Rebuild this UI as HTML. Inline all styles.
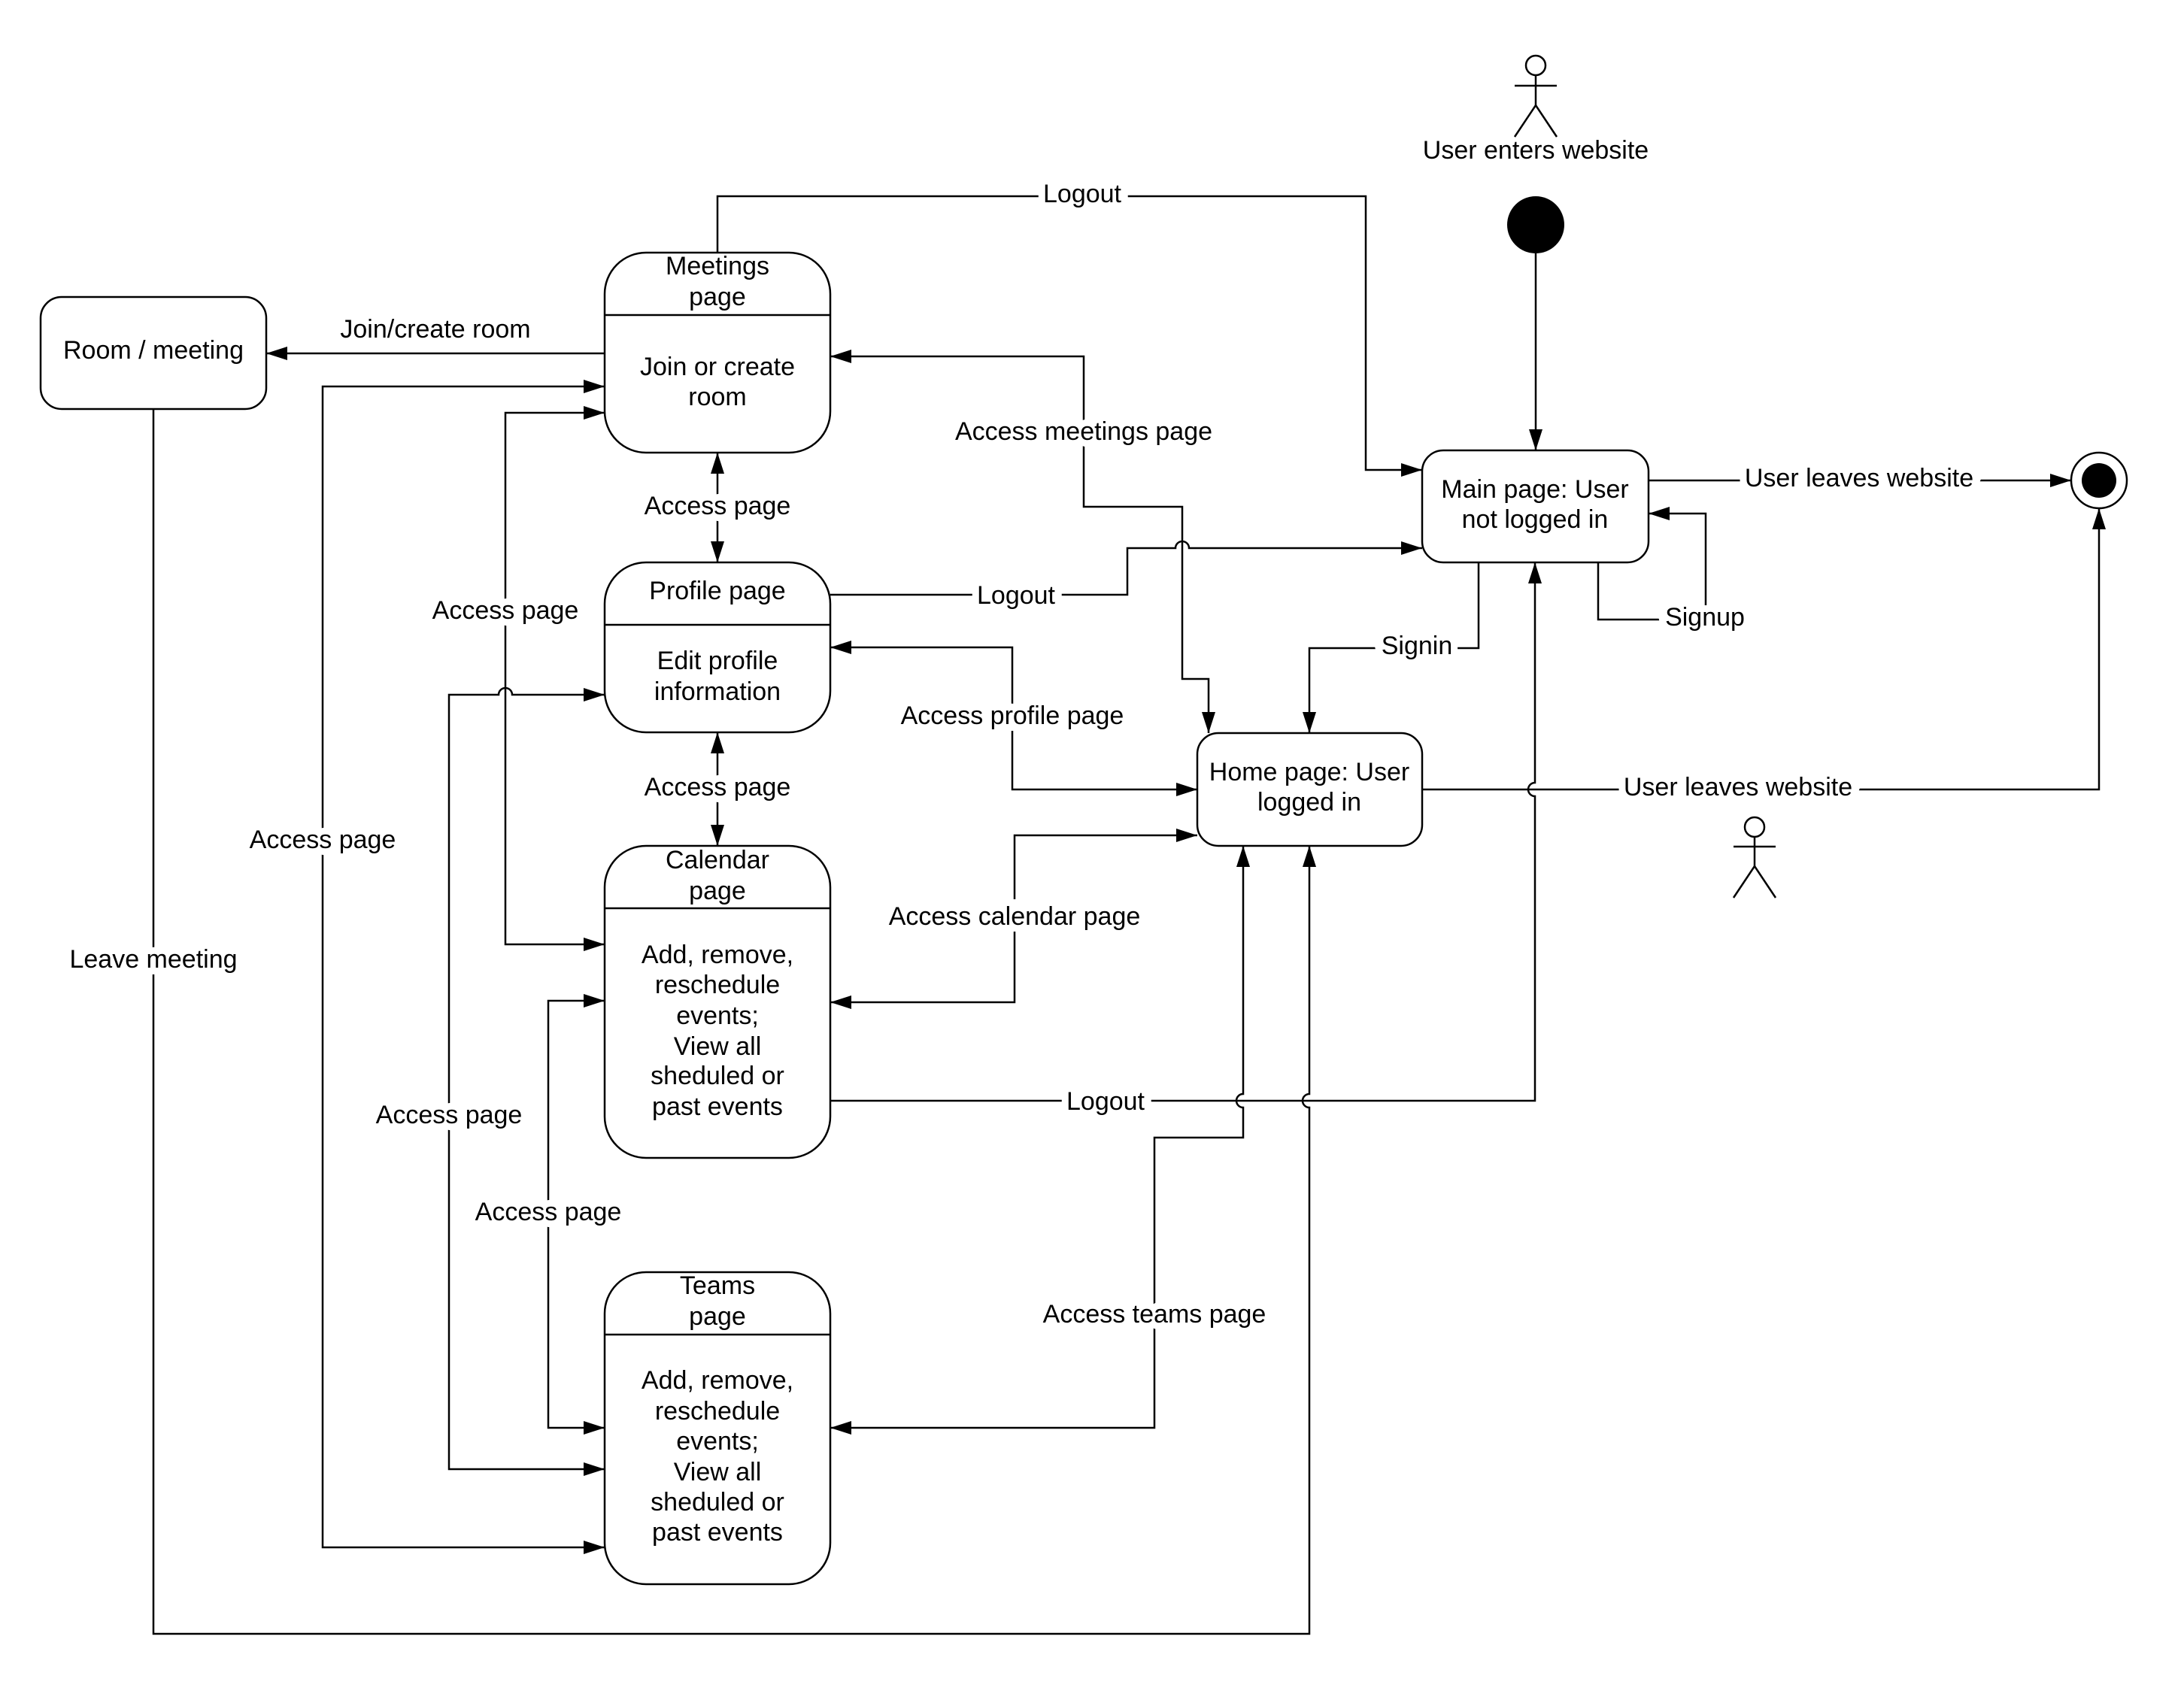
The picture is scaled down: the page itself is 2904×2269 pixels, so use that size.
<!DOCTYPE html>
<html><head><meta charset="utf-8"><style>
html,body{margin:0;padding:0;background:#fff;}
svg{display:block;}
text{font-family:"Liberation Sans",sans-serif;font-size:34px;fill:#000;text-anchor:middle;}
.l{paint-order:stroke;stroke:#fff;stroke-width:18px;stroke-linejoin:miter;}
</style></head><body>
<svg width="2904" height="2269" viewBox="0 0 2904 2269" xmlns="http://www.w3.org/2000/svg">
<defs>
<marker id="a" markerUnits="userSpaceOnUse" markerWidth="28" markerHeight="18" refX="28" refY="9" orient="auto-start-reverse"><path d="M0,0 L28,9 L0,18 z" fill="#000"/></marker>
</defs>
<g fill="none" stroke="#000" stroke-width="2.5">
<rect x="54" y="395" width="300" height="149" rx="28"/>
<rect x="804" y="336" width="300" height="266" rx="55"/><line x1="804" y1="419" x2="1104" y2="419"/>
<rect x="804" y="748" width="300" height="226" rx="55"/><line x1="804" y1="831" x2="1104" y2="831"/>
<rect x="804" y="1125" width="300" height="415" rx="55"/><line x1="804" y1="1208" x2="1104" y2="1208"/>
<rect x="804" y="1692" width="300" height="415" rx="55"/><line x1="804" y1="1775" x2="1104" y2="1775"/>
<rect x="1891" y="599" width="301" height="149" rx="28"/>
<rect x="1592" y="975" width="299" height="150" rx="28"/>
<circle cx="2042" cy="87" r="13"/><line x1="2042" y1="100" x2="2042" y2="140"/><line x1="2014" y1="114" x2="2070" y2="114"/><path d="M2014,182 L2042,140 L2070,182"/>
<circle cx="2333" cy="1100" r="13"/><line x1="2333" y1="1113" x2="2333" y2="1152"/><line x1="2305" y1="1126" x2="2361" y2="1126"/><path d="M2305,1194 L2333,1152 L2361,1194"/>
<circle cx="2791" cy="639" r="37"/>
<path d="M954,336 V261 H1816 V625 H1891" marker-end="url(#a)"/>
<path d="M804,470 H354" marker-end="url(#a)"/>
<path d="M1104,474 H1441 V674 H1572 V903 H1607 V975" marker-start="url(#a)" marker-end="url(#a)"/>
<path d="M954,602 V748" marker-start="url(#a)" marker-end="url(#a)"/>
<path d="M954,974 V1125" marker-start="url(#a)" marker-end="url(#a)"/>
<path d="M1104,791 H1499 V729 H1563 A9,9 0 0 1 1581,729 H1891" marker-end="url(#a)"/>
<path d="M1104,861 H1346 V1050 H1592" marker-start="url(#a)" marker-end="url(#a)"/>
<path d="M1966,748 V862 H1741 V975" marker-end="url(#a)"/>
<path d="M2125,748 V824 H2268 V683 H2192" marker-end="url(#a)"/>
<path d="M2192,639 H2754" marker-end="url(#a)"/>
<path d="M1891,1050 H2791 V676" marker-end="url(#a)"/>
<path d="M1104,1464 H2041 V1059 A9,9 0 0 1 2041,1041 V748" marker-end="url(#a)"/>
<path d="M1104,1333 H1349 V1111 H1592" marker-start="url(#a)" marker-end="url(#a)"/>
<path d="M1104,1899 H1535 V1513 H1653 V1473 A9,9 0 0 1 1653,1455 V1125" marker-start="url(#a)" marker-end="url(#a)"/>
<path d="M204,544 V2173 H1741 V1473 A9,9 0 0 1 1741,1455 V1125" marker-end="url(#a)"/>
<path d="M804,549 H672 V1256 H804" marker-start="url(#a)" marker-end="url(#a)"/>
<path d="M804,924 H681 A9,9 0 0 0 663,924 H597 V1954 H804" marker-start="url(#a)" marker-end="url(#a)"/>
<path d="M804,1331 H729 V1899 H804" marker-start="url(#a)" marker-end="url(#a)"/>
<path d="M804,514 H429 V2058 H804" marker-start="url(#a)" marker-end="url(#a)"/>
<path d="M2042,337 V599" marker-end="url(#a)"/>
</g>
<circle cx="2042" cy="299" r="38" fill="#000"/>
<circle cx="2791" cy="639" r="23" fill="#000"/>
<text x="204" y="477">Room / meeting</text>
<text x="954" y="365">Meetings</text><text x="954" y="406">page</text>
<text x="954" y="499">Join or create</text><text x="954" y="539">room</text>
<text x="954" y="797">Profile page</text>
<text x="954" y="890">Edit profile</text><text x="954" y="931">information</text>
<text x="954" y="1155">Calendar</text><text x="954" y="1196">page</text>
<text x="954" y="1281">Add, remove,</text><text x="954" y="1321">reschedule</text><text x="954" y="1362">events;</text><text x="954" y="1403">View all</text><text x="954" y="1442">sheduled or</text><text x="954" y="1483">past events</text>
<text x="954" y="1721">Teams</text><text x="954" y="1762">page</text>
<text x="954" y="1847">Add, remove,</text><text x="954" y="1888">reschedule</text><text x="954" y="1928">events;</text><text x="954" y="1969">View all</text><text x="954" y="2009">sheduled or</text><text x="954" y="2049">past events</text>
<text x="2041" y="662">Main page: User</text><text x="2041" y="702">not logged in</text>
<text x="1741" y="1038">Home page: User</text><text x="1741" y="1078">logged in</text>
<text x="2042" y="211">User enters website</text>
<text class="l" x="1439" y="269">Logout</text>
<text class="l" x="579" y="449">Join/create room</text>
<text class="l" x="1441" y="585">Access meetings page</text>
<text class="l" x="954" y="684">Access page</text>
<text class="l" x="954" y="1058">Access page</text>
<text class="l" x="1351" y="803">Logout</text>
<text class="l" x="1346" y="963">Access profile page</text>
<text class="l" x="1884" y="870">Signin</text>
<text class="l" x="2267" y="832">Signup</text>
<text class="l" x="2472" y="647">User leaves website</text>
<text class="l" x="2311" y="1058">User leaves website</text>
<text class="l" x="1470" y="1476">Logout</text>
<text class="l" x="1349" y="1230">Access calendar page</text>
<text class="l" x="1535" y="1759">Access teams page</text>
<text class="l" x="204" y="1287">Leave meeting</text>
<text class="l" x="672" y="823">Access page</text>
<text class="l" x="429" y="1128">Access page</text>
<text class="l" x="597" y="1494">Access page</text>
<text class="l" x="729" y="1623">Access page</text>
</svg>
</body></html>
